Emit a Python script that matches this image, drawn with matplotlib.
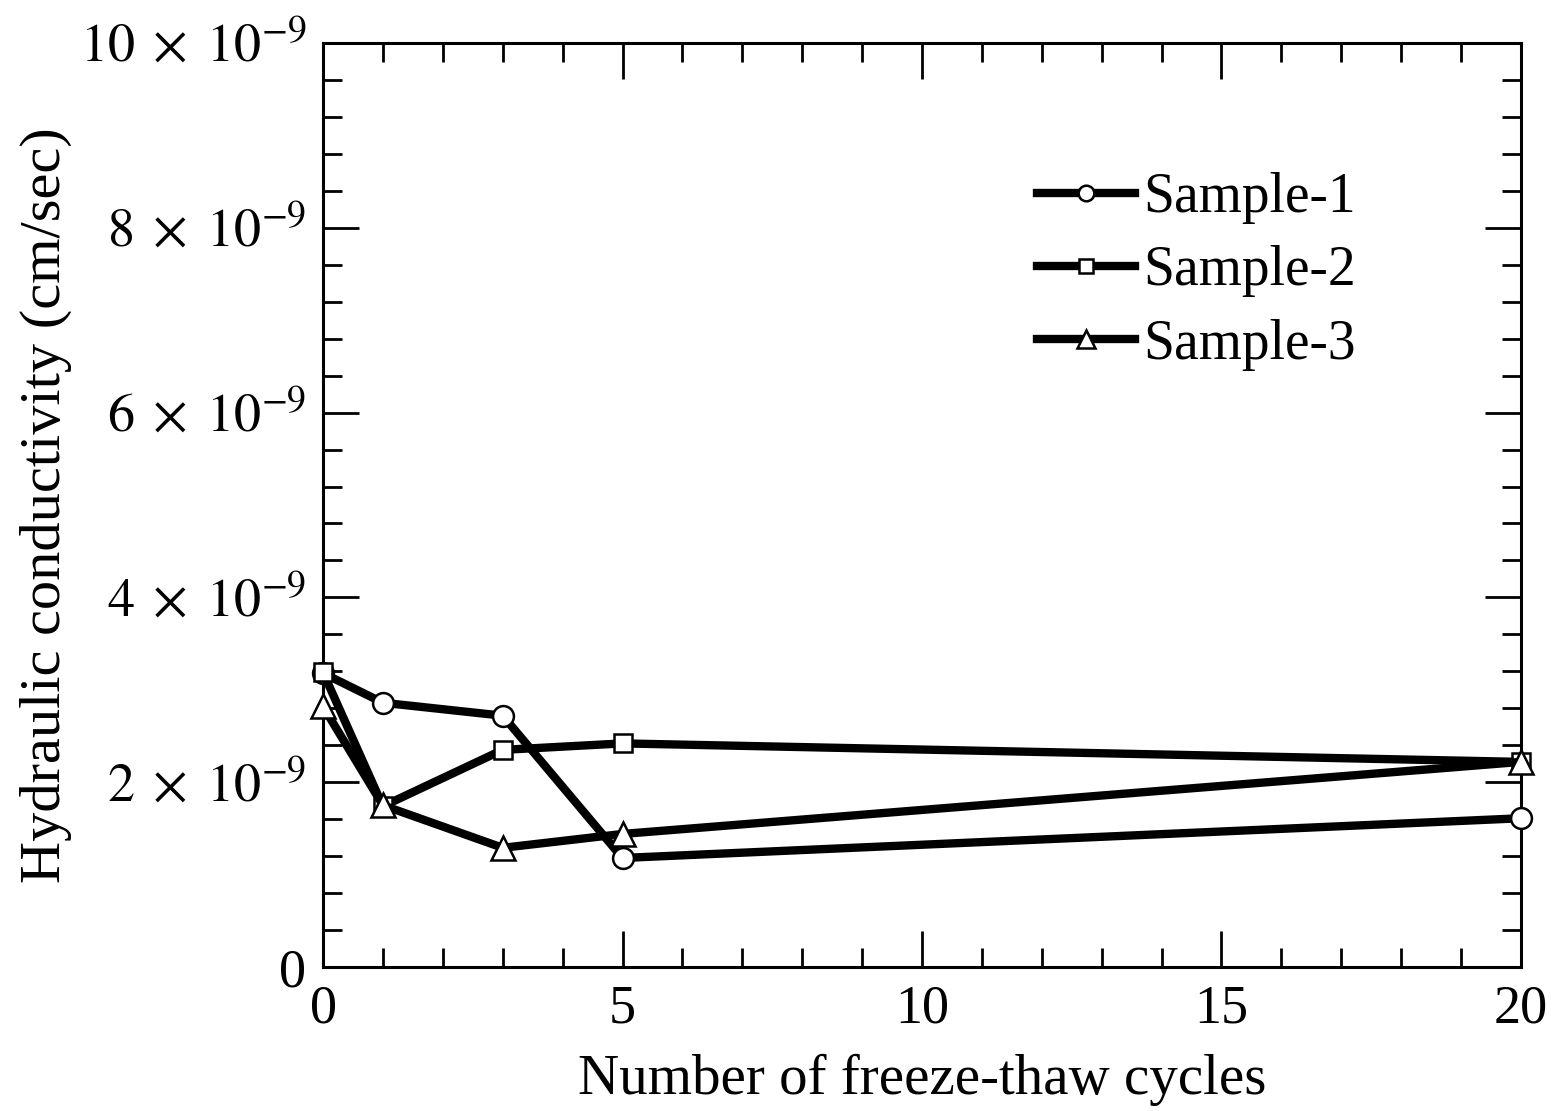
import matplotlib
matplotlib.use("Agg")
import matplotlib.pyplot as plt
from matplotlib.ticker import MultipleLocator, FixedLocator

plt.rcParams['font.family'] = ['Liberation Serif', 'DejaVu Serif']
plt.rcParams['mathtext.fontset'] = 'stix'

cycles = [0, 1, 3, 5, 20]
sample1 = [3.18, 2.86, 2.72, 1.18, 1.61]
sample2 = [3.19, 1.74, 2.35, 2.42, 2.22]
sample3 = [2.82, 1.75, 1.29, 1.44, 2.22]
series_names = ["Sample-1", "Sample-2", "Sample-3"]
markers = ["o", "s", "^"]

ytick_values = [0, 2, 4, 6, 8, 10]
ytick_labels = ["0", r"$2\;\times\;10^{-9}$", r"$4\;\times\;10^{-9}$", r"$6\;\times\;10^{-9}$",
                r"$8\;\times\;10^{-9}$", r"$10\;\times\;10^{-9}$"]
xtick_values = [0, 5, 10, 15, 20]

fig = plt.figure(figsize=(15.56, 11.11), dpi=100)
ax = fig.add_axes([0.2076, 0.1296, 0.7699, 0.8317])

for ys, name, m in zip([sample1, sample2, sample3], series_names, markers):
    ax.plot(cycles, ys, color='black', lw=6, marker=m, ms={'o': 15, 's': 13, '^': 17}[m],
            mfc='white', mec='black', mew=1.8, label=name, clip_on=False, zorder=3)

ax.set_xlim(0, 20)
ax.set_ylim(0, 10)
ax.xaxis.set_major_locator(FixedLocator(xtick_values))
ax.xaxis.set_minor_locator(MultipleLocator(1))
ax.yaxis.set_major_locator(FixedLocator(ytick_values))
ax.yaxis.set_minor_locator(MultipleLocator(0.4))
ax.set_yticklabels(ytick_labels)

ax.tick_params(which='both', direction='in', top=True, right=True, width=2, colors='black')
ax.tick_params(which='major', length=26, labelsize=39, pad=12)
ax.tick_params(which='minor', length=14)
for s in ax.spines.values():
    s.set_linewidth(2.2)

ax.set_xlabel("Number of freeze-thaw cycles", fontsize=41, labelpad=14)
ax.set_ylabel("Hydraulic conductivity (cm/sec)", fontsize=42, labelpad=6)

leg = ax.legend(loc='upper right', bbox_to_anchor=(0.862, 0.86), frameon=False, fontsize=40,
                handlelength=1.75, handletextpad=0.15, labelspacing=0.38, borderaxespad=0,
                borderpad=0, markerscale=0.75)

fig.savefig("out.png", dpi=100)
